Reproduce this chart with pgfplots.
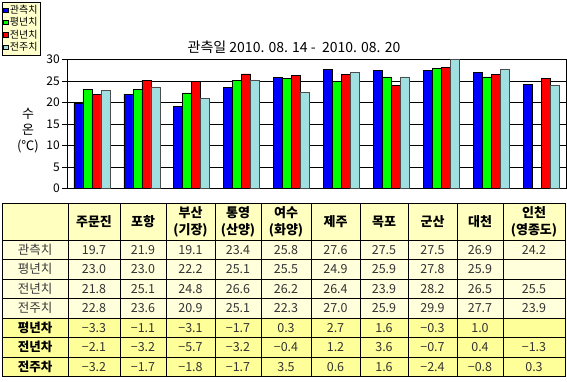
\documentclass[border=0pt]{standalone}
\usepackage{fontspec}
\setmainfont{Noto Sans CJK KR}
\usepackage{pgfplots}
\pgfplotsset{compat=1.18}
\definecolor{cBlue}{HTML}{0000FF}
\definecolor{cGreen}{HTML}{00FF00}
\definecolor{cRed}{HTML}{FF0000}
\definecolor{cCyan}{HTML}{A0E0E0}
\definecolor{hdr}{HTML}{FFFFC0}
\definecolor{rowA}{HTML}{FFFFDC}
\definecolor{rowB}{HTML}{FFFF99}
\definecolor{legbg}{HTML}{FFFFCC}
\definecolor{numc}{HTML}{333333}
\begin{document}
\begin{tikzpicture}
\useasboundingbox[fill=white] (0,0) rectangle (567pt,381pt);
\begin{axis}[
  at={(67pt,192.7pt)}, anchor=south west,
  width=499pt, height=129pt, scale only axis,
  xmin=-0.5, xmax=9.5, ymin=0, ymax=30,
  ytick={0,5,...,30},
  xtick=\empty,
  ymajorgrids, grid style={black, line width=0.6pt},
  axis line style={black, line width=0.8pt},
  tick align=outside, ytick pos=left, major tick length=5pt,
  tick style={black, line width=0.6pt},
  yticklabel style={font=\fontsize{12}{12}\selectfont, inner sep=0pt, xshift=-2pt},
  /pgf/number format/assume math mode=true,
  ybar=0pt, bar width=9pt,
  legend style={at={(-0.1303,1.444)}, anchor=north west, fill=legbg, draw=black,
    font=\fontsize{10}{12}\selectfont, inner sep=1pt, row sep=-1.5pt, cells={anchor=west}},
  sq/.style={legend image code/.code={\draw[##1, draw=black, line width=0.4pt] (0pt,-2.2pt) rectangle (4.4pt,2.2pt);}},
]
\addplot[fill=cBlue, draw=black, line width=0.6pt, sq] coordinates {(0,19.7) (1,21.9) (2,19.1) (3,23.4) (4,25.8) (5,27.6) (6,27.5) (7,27.5) (8,26.9) (9,24.2)};
\addplot[fill=cGreen, draw=black, line width=0.6pt, sq] coordinates {(0,23.0) (1,23.0) (2,22.2) (3,25.1) (4,25.5) (5,24.9) (6,25.9) (7,27.8) (8,25.9)};
\addplot[fill=cRed, draw=black, line width=0.6pt, sq] coordinates {(0,21.8) (1,25.1) (2,24.8) (3,26.6) (4,26.2) (5,26.4) (6,23.9) (7,28.2) (8,26.5) (9,25.5)};
\addplot[fill=cCyan, draw=black!70, line width=0.6pt, sq] coordinates {(0,22.8) (1,23.6) (2,20.9) (3,25.1) (4,22.3) (5,27.0) (6,25.9) (7,29.9) (8,27.7) (9,23.9)};
\legend{관측치,평년치,전년치,전주치}
\end{axis}
\begin{scope}[shift={(0pt,381pt)}, x=1pt, y=-1pt]
\node[font=\fontsize{14}{14}\selectfont] at (294,47.5) {관측일 2010. 08. 14 -\ \ 2010. 08. 20};
\node[font=\fontsize{13}{16}\selectfont, align=center] at (28,131) {수\\온\\(℃)};
\fill[hdr] (2.7,203) rectangle (565,240);
\fill[rowA] (2.7,240) rectangle (565,318);
\fill[rowB] (2.7,318) rectangle (565,376.5);
\foreach \x in {2.7,68,120,166,215,261,311,360,408,457,503,565} \draw[line width=0.8pt] (\x,203) -- (\x,376.5);
\foreach \y in {203,240,259.5,279,298.5,318,337.5,357,376.5} \draw[line width=0.8pt] (2.7,\y) -- (565,\y);
\foreach \a/\b/\t in {68/120/주문진,120/166/포항,166/215/{부산\\(기장)},215/261/{통영\\(산양)},261/311/{여수\\(화양)},311/360/제주,360/408/목포,408/457/군산,457/503/대천,503/565/{인천\\(영종도)}}
  \node[font=\fontsize{13}{17}\selectfont\bfseries, align=center] at ({(\a+\b)/2},221.5) {\t};
\foreach \lab/\yc/\sty/\vals in {
  관측치/249.75/0/{19.7,21.9,19.1,23.4,25.8,27.6,27.5,27.5,26.9,24.2},
  평년치/269.25/0/{23.0,23.0,22.2,25.1,25.5,24.9,25.9,27.8,25.9},
  전년치/288.75/0/{21.8,25.1,24.8,26.6,26.2,26.4,23.9,28.2,26.5,25.5},
  전주치/308.25/0/{22.8,23.6,20.9,25.1,22.3,27.0,25.9,29.9,27.7,23.9},
  평년차/327.75/1/{−3.3,−1.1,−3.1,−1.7,0.3,2.7,1.6,−0.3,1.0},
  전년차/347.25/1/{−2.1,−3.2,−5.7,−3.2,−0.4,1.2,3.6,−0.7,0.4,−1.3},
  전주차/366.75/1/{−3.2,−1.7,−1.8,−1.7,3.5,0.6,1.6,−2.4,−0.8,0.3}} {
  \ifnum\sty=1
    \node[font=\fontsize{12.5}{12.5}\selectfont\bfseries] at (35,\yc) {\lab};
  \else
    \node[font=\fontsize{12.5}{12.5}\selectfont, text=black!78] at (35,\yc) {\lab};
  \fi
  \foreach \v [count=\j] in \vals {
    \pgfmathsetmacro\cx{{94,143,190.5,238,286,335.5,384,432.5,480,534}[\j-1]}
    \node[font=\fontsize{12.5}{12.5}\selectfont, text=numc] at (\cx,\yc) {\v};
  }
}
\end{scope}
\end{tikzpicture}
\end{document}
